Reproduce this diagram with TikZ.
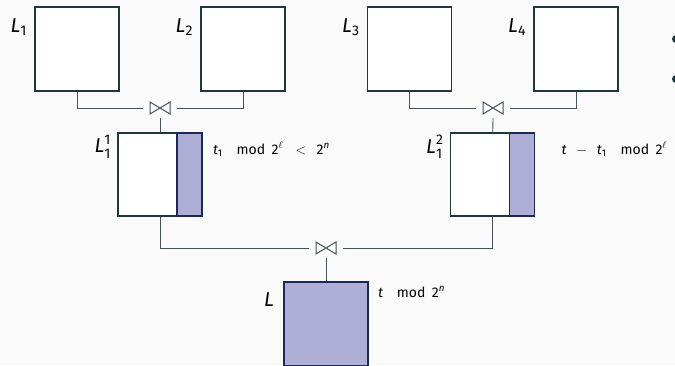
\documentclass[tikz,border=0pt]{standalone}
\usepackage{amsmath}
\usepackage{fontspec}
\setmainfont{Fira Sans}
\usetikzlibrary{positioning}
\definecolor{bg}{RGB}{250,250,250}
\definecolor{boxline}{RGB}{35,55,59}
\definecolor{wirecol}{RGB}{70,82,86}
\definecolor{lav}{RGB}{175,174,214}
\definecolor{navy}{RGB}{30,40,85}
\newcommand{\ivar}[1]{\text{\itshape #1}}

\begin{document}
\begin{tikzpicture}[
  x=1pt, y=-1pt,
  font=\fontsize{14}{16}\selectfont,
  lbox/.style={draw=boxline, line width=1.6pt, fill=white, minimum width=84pt,
               minimum height=84pt, inner sep=0pt},
  halfbox/.style={lbox, minimum height=83pt},
  strip/.style={draw=navy, line width=1.6pt, fill=lav, minimum width=25pt,
                minimum height=83pt, inner sep=0pt},
  fullbox/.style={lbox, draw=navy, fill=lav},
  joinop/.style={minimum width=22pt, minimum height=14pt, inner sep=0pt,
                 outer xsep=6pt, outer ysep=3pt,
                 path picture={\draw[wirecol, line width=1pt, line join=miter]
                   ([xshift=1pt,yshift=1pt]path picture bounding box.south west)
                   -- ([xshift=1pt,yshift=-1pt]path picture bounding box.north west)
                   -- ([xshift=-1pt,yshift=1pt]path picture bounding box.south east)
                   -- ([xshift=-1pt,yshift=-1pt]path picture bounding box.north east)
                   -- cycle;}},
  wire/.style={draw=wirecol, line width=0.8pt},
  lab/.style={font=\fontsize{20}{22}\selectfont, inner sep=0pt},
  note/.style={inner sep=0pt, anchor=base west},
  bullet/.style={circle, fill=boxline, minimum size=8pt, inner sep=0pt}
]
\fill[bg] (0,0) rectangle (675,365);
\useasboundingbox (0,0) rectangle (675,365);

% input relations
\node[lbox] (l1) at (77,49) {};
\node[lbox] (l2) at (243,49) {};
\node[lbox] (l3) at (409.5,49) {};
\node[lbox] (l4) at (576,49) {};
\node[lab, below left=12pt and 7pt of l1.north west] (t1) {$\ivar{L}_{\text{1}}$};
\node[lab, below left=12pt and 7pt of l2.north west] (t2) {$\ivar{L}_{\text{2}}$};
\node[lab, below left=12pt and 7pt of l3.north west] (t3) {$\ivar{L}_{\text{3}}$};
\node[lab, below left=12pt and 7pt of l4.north west] (t4) {$\ivar{L}_{\text{4}}$};

% first joins
\node[joinop] (j1) at (160,108) {};
\node[joinop] (j2) at (493,108) {};

% intermediate results
\node[halfbox] (l11) at (160,174.5) {};
\node[strip, anchor=north east] (s11) at (l11.north east) {};
\node[halfbox] (l12) at (492.5,174.5) {};
\node[strip, anchor=north east] (s12) at (l12.north east) {};
\node[lab, below left=3pt and 6pt of l11.north west] (t11) {$\ivar{L}_{\text{1}}^{\text{1}}$};
\node[lab, below left=3pt and 6pt of l12.north west] (t12) {$\ivar{L}_{\text{1}}^{\text{2}}$};
\node[note] (n11) at ([shift={(10,22)}]s11.north east)
  {$\ivar{t}_{\text{1}}\quad\text{mod}\;\,\text{2}^{\ell}\;\;<\;\,\text{2}^{\ivar{n}}$};
\node[note] (n12) at ([shift={(26,22)}]s12.north east)
  {$\ivar{t}\;\,-\;\,\ivar{t}_{\text{1}}\quad\text{mod}\;\,\text{2}^{\ell}$};

% final join
\node[joinop] (j3) at (326,248) {};
\node[fullbox] (l) at (326,324) {};
\node[lab, below left=11pt and 9pt of l.north west] (tl) {$\ivar{L}$};
\node[note] (nl) at ([shift={(9,16)}]l.north east)
  {$\ivar{t}\quad\text{mod}\;\,\text{2}^{\ivar{n}}$};

% bullets cut at the edge
\node[bullet] (b1) at (676,39) {};
\node[bullet] (b2) at (676,79) {};

\draw[wire] (l1) |- (j1);
\draw[wire] (l2) |- (j1);
\draw[wire] (l3) |- (j2);
\draw[wire] (l4) |- (j2);
\draw[wire] (j1) -- (l11);
\draw[wire] (j2) -- (l12);
\draw[wire] (l11) |- (j3);
\draw[wire] (l12) |- (j3);
\draw[wire] (j3) -- (l);
\end{tikzpicture}
\end{document}
